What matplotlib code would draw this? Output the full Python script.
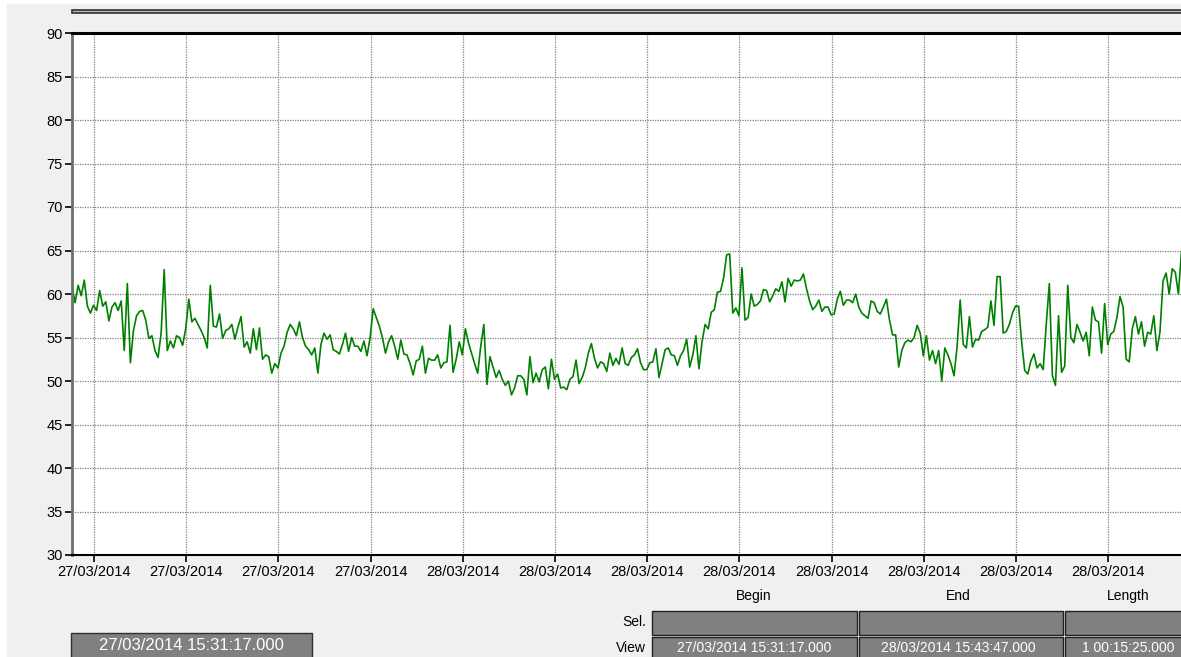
import pandas as pd
import matplotlib
matplotlib.use("Agg")
from matplotlib import pyplot as plt
import matplotlib.dates as mdates
from matplotlib.patches import Rectangle

plt.rcParams['font.family'] = ['Liberation Sans', 'DejaVu Sans']

# logger trace, one value every 4 minutes from the view start
view_begin = "27/03/2014 15:31:17.000"
view_end = "28/03/2014 15:43:47.000"
view_length = "1 00:15:25.000"
start = "2014-03-27 15:31:17"
stop = "2014-03-28 15:43:47"

values = [
    61.0, 59.0, 61.0, 59.8, 61.6, 58.6, 57.8, 58.7,
    58.1, 60.4, 58.6, 59.1, 56.9, 58.5, 59.0, 58.1, 59.2, 53.5,
    61.2, 52.1, 55.8, 57.5, 58.0, 58.1, 57.0, 54.9, 55.2, 53.5,
    52.7, 55.5, 62.8, 53.5, 54.6, 53.8, 55.2, 55.0, 54.1, 56.0,
    59.4, 56.8, 57.2, 56.5, 55.8, 55.0, 53.8, 61.0, 56.3, 56.2,
    57.7, 54.9, 55.8, 56.0, 56.5, 54.8, 56.2, 57.4, 53.9, 54.5,
    53.2, 56.0, 53.6, 56.1, 52.5, 53.0, 52.8, 50.9, 52.0, 51.5,
    53.2, 54.0, 55.6, 56.5, 56.0, 55.2, 56.8, 55.0, 54.0, 53.6,
    53.0, 53.8, 50.9, 54.2, 55.5, 54.8, 55.3, 53.6, 53.4, 53.1,
    54.2, 55.5, 53.4, 55.0, 54.0, 54.0, 53.4, 54.6, 52.9, 55.0,
    58.3, 57.3, 56.3, 55.0, 53.2, 54.5, 55.2, 54.0, 52.5, 54.7,
    53.1, 53.0, 52.0, 50.7, 52.3, 52.5, 54.0, 50.9, 52.6, 52.4,
    52.4, 53.0, 51.5, 52.1, 52.2, 56.4, 51.0, 52.5, 54.5, 53.0,
    56.0, 54.4, 53.2, 52.0, 50.9, 54.0, 56.5, 49.6, 52.8, 51.6,
    50.4, 51.2, 50.2, 49.5, 50.0, 48.4, 49.2, 50.6, 50.6, 50.2,
    48.4, 52.8, 49.8, 50.9, 49.9, 51.3, 51.6, 49.1, 52.5, 50.2,
    50.8, 49.2, 49.3, 49.0, 50.2, 50.5, 52.4, 49.7, 50.4, 51.5,
    53.2, 54.3, 52.6, 51.5, 52.2, 52.0, 51.1, 53.2, 51.8, 52.6,
    51.9, 53.8, 52.0, 51.8, 52.7, 53.0, 53.7, 52.1, 51.3, 51.3,
    52.1, 52.2, 53.7, 50.4, 52.0, 53.6, 53.8, 53.0, 52.9, 51.8,
    52.9, 53.5, 54.8, 51.6, 53.0, 55.2, 51.4, 54.5, 56.5, 56.0,
    57.9, 58.2, 60.2, 60.3, 61.8, 64.5, 64.6, 57.8, 58.4, 57.5,
    63.0, 57.0, 57.3, 60.0, 58.6, 58.8, 59.2, 60.5, 60.4, 59.1,
    59.8, 60.6, 60.3, 61.4, 59.1, 61.8, 60.9, 61.6, 61.5, 61.6,
    62.3, 60.6, 59.2, 58.2, 58.6, 59.3, 58.0, 58.5, 58.5, 57.6,
    57.7, 59.4, 60.3, 58.7, 59.3, 59.3, 59.0, 60.0, 58.5, 57.8,
    57.5, 57.2, 59.2, 59.0, 58.0, 57.7, 58.5, 59.4, 57.0, 55.3,
    55.3, 51.6, 53.5, 54.4, 54.7, 54.5, 55.0, 56.4, 55.5, 52.9,
    55.2, 52.4, 53.5, 52.0, 53.5, 50.0, 53.8, 53.0, 52.0, 50.6,
    54.0, 59.3, 54.2, 53.8, 57.4, 53.9, 54.8, 54.7, 55.7, 55.9,
    56.2, 59.2, 56.4, 62.0, 62.0, 55.5, 55.7, 56.5, 57.8, 58.6,
    58.6, 54.5, 51.2, 50.8, 52.3, 53.1, 51.5, 52.0, 51.3, 56.5,
    61.2, 50.6, 49.5, 57.5, 51.0, 51.7, 61.0, 55.0, 54.4, 56.5,
    55.6, 54.6, 55.6, 52.9, 58.5, 57.0, 56.8, 53.2, 58.9, 54.2,
    55.4, 55.7, 57.3, 59.7, 58.5, 52.5, 52.2, 56.0, 57.4, 55.4,
    56.8, 54.0, 55.6, 55.4, 57.5, 53.5, 55.6, 61.5, 62.4, 60.0,
    62.9, 62.5, 60.0, 64.9, 65.0, 64.5,
]
times = pd.date_range(start, periods=len(values), freq="4min")

yticks = list(range(30, 95, 5))
col_heads = ["Begin", "End", "Length"]
view_row = [view_begin, view_end, view_length]

W, H = 1181, 657
BG = '#f0f0f0'
CELL = '#808080'


def fx(x):
    return x / W


def fy(y):
    return 1 - y / H


def box(fig, x0, y0, x1, y1, face, edge=None, lw=1.0, z=1):
    r = Rectangle((fx(x0), fy(y1)), fx(x1) - fx(x0), fy(y0) - fy(y1),
                  transform=fig.transFigure, facecolor=face,
                  edgecolor=edge if edge else face, linewidth=lw, zorder=z)
    fig.patches.append(r)


fig = plt.figure(figsize=(W / 100, H / 100), dpi=100, facecolor='white')
box(fig, 7, 4, W + 5, H + 5, BG, z=-10)

# top scroll bar
box(fig, 72, 10, W + 5, 13, '#b8b8b8', '#303030', 1.2)

ax = fig.add_axes([fx(72), fy(555), fx(1188) - fx(72), fy(33) - fy(555)])
ax.set_zorder(2)
ax.set_facecolor('white')
ax.plot(times, values, color='#008000', linewidth=1.2)

ax.set_xlim(pd.Timestamp(start), pd.Timestamp(stop))
ax.set_ylim(30, 90)
ax.set_yticks(yticks)
ax.xaxis.set_major_locator(mdates.HourLocator(byhour=range(0, 24, 2)))
ax.xaxis.set_major_formatter(mdates.DateFormatter('%d/%m/%Y'))
ax.grid(True, color='#808080', linestyle=(0, (1, 1)), linewidth=0.9)
ax.tick_params(axis='both', direction='out', length=5, width=1.2,
               labelsize=10.5, colors='black', pad=1.5)
ax.tick_params(axis='x', pad=2)

ax.spines['top'].set_linewidth(2.2)
ax.spines['top'].set_color('black')
ax.spines['bottom'].set_linewidth(1.5)
ax.spines['bottom'].set_color('black')
ax.spines['left'].set_linewidth(2.0)
ax.spines['left'].set_color('#6e6e6e')
ax.spines['right'].set_visible(False)

# selection / view table
cols = [(652, 857, 754), (859, 1063, 958), (1065, W + 5, 1128)]
for (x0, x1, xc), head, val in zip(cols, col_heads, view_row):
    fig.text(fx(xc), fy(596), head, ha='center', va='center', fontsize=10)
    box(fig, x0, 611, x1, 635, CELL, '#202020', 1.0)
    box(fig, x0, 637, x1, H + 5, CELL, '#202020', 1.0)
    fig.text(fx(xc), fy(648), val, ha='center', va='center',
             fontsize=10, color='white')
fig.text(fx(646), fy(622), "Sel.", ha='right', va='center', fontsize=10)
fig.text(fx(646), fy(648), "View", ha='right', va='center', fontsize=10)

# cursor readout
box(fig, 71, 633, 312, H + 5, CELL, '#303030', 1.0)
fig.text(fx(191), fy(646), view_begin, ha='center', va='center',
         fontsize=12, color='white')

fig.savefig('out.png', dpi=100, facecolor=fig.get_facecolor())
